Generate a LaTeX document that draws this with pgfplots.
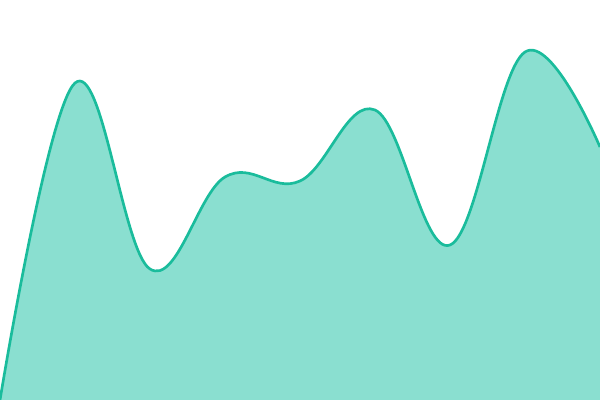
\documentclass[border=0pt]{standalone}
\usepackage{pgfplots}
\pgfplotsset{compat=1.18}
\definecolor{teal1}{HTML}{1ABC9C}
\definecolor{tealfill}{HTML}{8ADFD0}
\begin{document}
\begin{tikzpicture}
\begin{axis}[
    width=15cm, height=10cm,
    scale only axis,
    hide axis,
    xmin=0, xmax=8,
    ymin=0, ymax=400,
    clip=true,
]
% area
\addplot[draw=none, fill=tealfill, smooth, tension=0.65] coordinates {
    (0,0) (1,317) (2,131) (3,223) (4,219) (5,290) (6,155) (7,348) (8,253)
} \closedcycle;
% line
\addplot[teal1, line width=1.9pt, smooth, tension=0.65] coordinates {
    (0,0) (1,317) (2,131) (3,223) (4,219) (5,290) (6,155) (7,348) (8,253)
};
\end{axis}
\pgfresetboundingbox
\path (current axis.south west) rectangle (current axis.north east);
\end{tikzpicture}
\end{document}
